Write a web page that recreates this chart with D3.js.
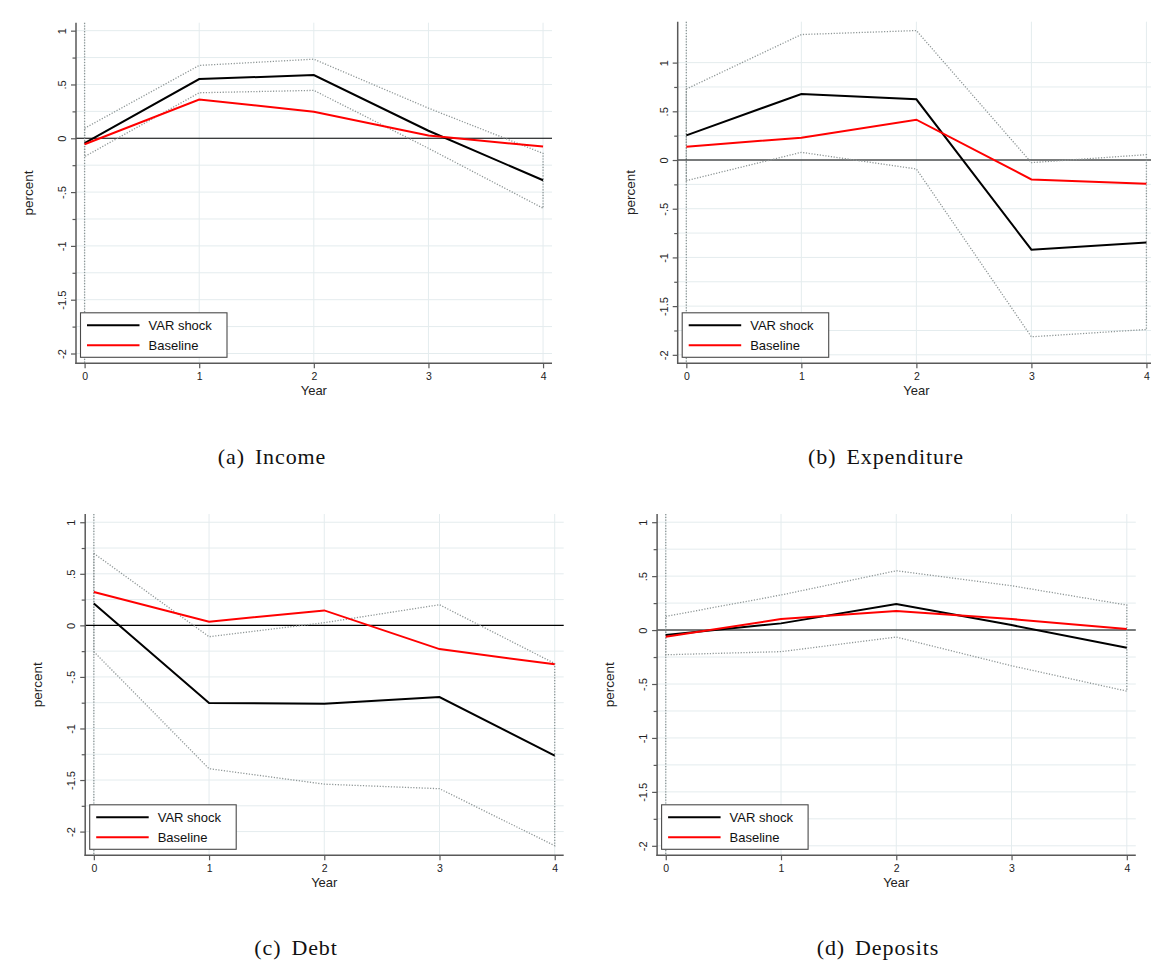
<!DOCTYPE html>
<html>
<head>
<meta charset="utf-8">
<script src="https://cdn.jsdelivr.net/npm/d3@7/dist/d3.min.js"></script>
<style>
  html, body { margin: 0; padding: 0; background: #fff; }
  svg { display: block; }
  .tick text { font-family: "Liberation Sans", Arial, sans-serif; }
</style>
</head>
<body>
<svg id="fig" width="1151" height="962"></svg>
<script>
// Impulse responses (percent) for years 0..4 after the shock
const years = [0, 1, 2, 3, 4];

const incomeVar   = [-0.046, 0.550, 0.587, 0.070, -0.390];
const incomeBase  = [-0.056, 0.360, 0.247, 0.025, -0.077];
const incomeUpper = [ 0.093, 0.677, 0.735, 0.280, -0.140];
const incomeLower = [-0.170, 0.423, 0.445, -0.093, -0.650];

const expendVar   = [ 0.253, 0.678, 0.623, -0.921, -0.846];
const expendBase  = [ 0.137, 0.229, 0.414, -0.199, -0.243];
const expendUpper = [ 0.729, 1.288, 1.329, -0.027, 0.055];
const expendLower = [-0.212, 0.079, -0.092, -1.815, -1.740];

const debtVar   = [ 0.213, -0.753, -0.760, -0.695, -1.264];
const debtBase  = [ 0.323, 0.036, 0.145, -0.230, -0.378];
const debtUpper = [ 0.698, -0.110, 0.026, 0.200, -0.370];
const debtLower = [-0.255, -1.390, -1.540, -1.584, -2.137];

const depositVar   = [-0.046, 0.062, 0.241, 0.046, -0.164];
const depositBase  = [-0.062, 0.102, 0.176, 0.102, 0.009];
const depositUpper = [ 0.127, 0.325, 0.550, 0.411, 0.232];
const depositLower = [-0.229, -0.200, -0.065, -0.331, -0.566];

const yTickValues = [-2, -1.5, -1, -0.5, 0, 0.5, 1];
const yTickLabels = ["-2", "-1.5", "-1", "-.5", "0", ".5", "1"];
const yMinorValues = [-1.75, -1.25, -0.75, -0.25, 0.25, 0.75];
const yGridValues = [-2, -1.75, -1.5, -1.25, -1, -0.75, -0.5, -0.25, 0, 0.25, 0.5, 0.75, 1];
const seriesNames = ["VAR shock", "Baseline"];
const seriesColors = ["#000000", "#ff0000"];
const captions = [["(a)", "Income"], ["(b)", "Expenditure"], ["(c)", "Debt"], ["(d)", "Deposits"]];

// Panel geometry
const panels = [
  { varS: incomeVar,  base: incomeBase,  up: incomeUpper,  lo: incomeLower,
    xr: [76, 552],     yr: [363.3, 22.7], yd: [-2.091, 1.074], cap: [272, 464] },
  { varS: expendVar,  base: expendBase,  up: expendUpper,  lo: expendLower,
    xr: [677.7, 1155.4], yr: [363.3, 21.7], yd: [-2.087, 1.420], cap: [886, 464] },
  { varS: debtVar,    base: debtBase,    up: debtUpper,    lo: debtLower,
    xr: [85.2, 563.7], yr: [855.3, 514], yd: [-2.230, 1.080], cap: [296, 955] },
  { varS: depositVar, base: depositBase, up: depositUpper, lo: depositLower,
    xr: [657.1, 1135.8], yr: [855.3, 514], yd: [-2.088, 1.076], cap: [878, 955] }
];

const svg = d3.select("#fig");
const AXIS_COLOR = "#595959";
const GRID_COLOR = "#e4ecee";
const CI_COLOR = "#8e9696";

panels.forEach((p, idx) => {
  const x = d3.scaleLinear().domain([-0.075, 4.078]).range(p.xr);
  const y = d3.scaleLinear().domain(p.yd).range(p.yr);
  const g = svg.append("g");
  const [x0, x1] = p.xr;
  const [yb, yt] = p.yr;

  // grid
  g.selectAll(".hgrid").data(yGridValues).join("line")
    .attr("x1", x0).attr("x2", x1)
    .attr("y1", d => y(d)).attr("y2", d => y(d))
    .attr("stroke", GRID_COLOR).attr("stroke-width", 1);
  g.selectAll(".vgrid").data(years).join("line")
    .attr("x1", d => x(d)).attr("x2", d => x(d))
    .attr("y1", yt).attr("y2", yb)
    .attr("stroke", GRID_COLOR).attr("stroke-width", 1);

  // reference line at year 0 and zero line
  g.append("line")
    .attr("x1", x(0)).attr("x2", x(0)).attr("y1", yt).attr("y2", yb)
    .attr("stroke", CI_COLOR).attr("stroke-width", 1.3).attr("stroke-dasharray", "1.2,1.6");
  g.append("line")
    .attr("x1", x0).attr("x2", x1).attr("y1", y(0)).attr("y2", y(0))
    .attr("stroke", "#000").attr("stroke-width", 1.1);

  // confidence band outline
  const band = years.map((yr, i) => [yr, p.up[i]])
    .concat(years.slice().reverse().map(yr => [yr, p.lo[yr]]));
  const bandLine = d3.line().x(d => x(d[0])).y(d => y(d[1]));
  g.append("path")
    .attr("d", bandLine(band) + "Z")
    .attr("fill", "none").attr("stroke", CI_COLOR).attr("stroke-width", 1.3)
    .attr("stroke-dasharray", "1.2,1.6");

  // response lines
  const line = d3.line().x((d, i) => x(years[i])).y(d => y(d));
  [p.varS, p.base].forEach((s, k) => {
    g.append("path").attr("d", line(s))
      .attr("fill", "none").attr("stroke", seriesColors[k])
      .attr("stroke-width", 2).attr("stroke-linejoin", "miter");
  });

  // axes
  const yAxis = d3.axisLeft(y).tickValues(yTickValues)
    .tickFormat((d, i) => yTickLabels[i]).tickSize(5).tickSizeOuter(0);
  const ya = g.append("g").attr("transform", `translate(${x0},0)`).call(yAxis);
  ya.select(".domain").remove();
  ya.selectAll(".tick line").attr("stroke", AXIS_COLOR).attr("stroke-width", 1.2);
  ya.selectAll(".tick text")
    .attr("x", null).attr("dy", null)
    .attr("text-anchor", "middle")
    .attr("transform", "translate(-10,0) rotate(-90)")
    .attr("font-size", 11).attr("fill", "#222");
  const yMinor = d3.axisLeft(y).tickValues(yMinorValues).tickFormat("").tickSize(3.5).tickSizeOuter(0);
  const ym = g.append("g").attr("transform", `translate(${x0},0)`).call(yMinor);
  ym.select(".domain").remove();
  ym.selectAll(".tick line").attr("stroke", AXIS_COLOR).attr("stroke-width", 1.2);

  const xAxis = d3.axisBottom(x).tickValues(years).tickFormat(d3.format("d"))
    .tickSize(5).tickPadding(4.5).tickSizeOuter(0);
  const xa = g.append("g").attr("transform", `translate(0,${yb})`).call(xAxis);
  xa.select(".domain").remove();
  xa.selectAll(".tick line").attr("stroke", AXIS_COLOR).attr("stroke-width", 1.2);
  xa.selectAll(".tick text").attr("font-size", 10.5).attr("fill", "#222");

  // axis lines
  g.append("line").attr("x1", x0).attr("x2", x0).attr("y1", yt).attr("y2", yb + 0.7)
    .attr("stroke", AXIS_COLOR).attr("stroke-width", 1.5);
  g.append("line").attr("x1", x0 - 0.7).attr("x2", x1).attr("y1", yb).attr("y2", yb)
    .attr("stroke", AXIS_COLOR).attr("stroke-width", 1.5);

  // axis titles
  g.append("text").text("Year")
    .attr("x", x(2)).attr("y", yb + 31.5)
    .attr("text-anchor", "middle")
    .attr("font-family", "Liberation Sans, Arial, sans-serif").attr("font-size", 13).attr("fill", "#222");
  g.append("text").text("percent")
    .attr("transform", `translate(${x0 - 43},${(yt + yb) / 2}) rotate(-90)`)
    .attr("text-anchor", "middle")
    .attr("font-family", "Liberation Sans, Arial, sans-serif").attr("font-size", 13.5).attr("fill", "#222");

  // legend
  const lx = x0 + 4.5, ly = yb - 50.5, lw = 146.5, lh = 44.5;
  const lg = g.append("g");
  lg.append("rect").attr("x", lx).attr("y", ly).attr("width", lw).attr("height", lh)
    .attr("fill", "#fff").attr("stroke", "#4a4a4a").attr("stroke-width", 1.1);
  seriesNames.forEach((name, k) => {
    const yy = ly + 12.5 + k * 20;
    lg.append("line").attr("x1", lx + 6.5).attr("x2", lx + 59).attr("y1", yy).attr("y2", yy)
      .attr("stroke", seriesColors[k]).attr("stroke-width", 2);
    lg.append("text").text(name).attr("x", lx + 68).attr("y", yy + 4.6)
      .attr("font-family", "Liberation Sans, Arial, sans-serif").attr("font-size", 13).attr("fill", "#111");
  });

  // sub-figure caption
  const cap = svg.append("text")
    .attr("x", p.cap[0]).attr("y", p.cap[1])
    .attr("text-anchor", "middle")
    .attr("font-family", "Liberation Serif, 'Times New Roman', serif")
    .attr("font-size", 22).attr("letter-spacing", 0.9).attr("fill", "#111");
  cap.append("tspan").text(captions[idx][0]);
  cap.append("tspan").attr("dx", 10).text(captions[idx][1]);
});
</script>
</body>
</html>
